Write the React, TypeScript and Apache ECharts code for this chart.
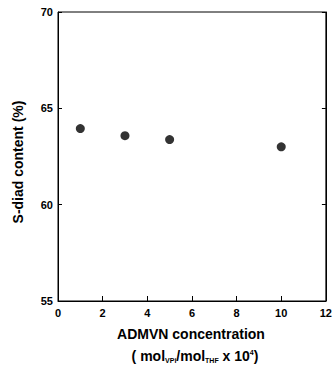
import React, { useEffect, useRef } from "react";
import * as echarts from "echarts";

const concentration = [1, 3, 5, 10];
const sDiad = [63.95, 63.58, 63.38, 63.0];
const xTicks = [0, 2, 4, 6, 8, 10, 12];
const yTicks = [55, 60, 65, 70];

export default function App() {
  const ref = useRef<HTMLDivElement>(null);
  useEffect(() => {
    if (!ref.current) return;
    const chart = echarts.init(ref.current, undefined, { renderer: "svg" });
    const font = "'Liberation Sans', Arial, sans-serif";
    chart.setOption({
      animation: false,
      backgroundColor: "#ffffff",
      grid: {
        left: 58,
        right: 9,
        top: 12,
        bottom: 74,
        show: true,
        borderColor: "#000",
        borderWidth: 1,
        backgroundColor: "transparent",
      },
      xAxis: {
        type: "value",
        min: xTicks[0],
        max: xTicks[xTicks.length - 1],
        interval: 2,
        axisLine: { show: true, lineStyle: { color: "#000", width: 1 } },
        axisTick: { show: true, inside: true, length: 5, lineStyle: { color: "#000" } },
        splitLine: { show: false },
        axisLabel: { color: "#000", fontFamily: font, fontWeight: "bold", fontSize: 11, margin: 6 },
      },
      yAxis: [
        {
          type: "value",
          min: yTicks[0],
          max: yTicks[yTicks.length - 1],
          interval: 5,
          axisLine: { show: true, lineStyle: { color: "#000", width: 1 } },
          axisTick: { show: true, inside: true, length: 4, lineStyle: { color: "#000" } },
          splitLine: { show: false },
          axisLabel: { color: "#000", fontFamily: font, fontWeight: "bold", fontSize: 11, margin: 5 },
        },
        {
          type: "value",
          position: "right",
          min: yTicks[0],
          max: yTicks[yTicks.length - 1],
          interval: 5,
          axisLine: { show: true, lineStyle: { color: "#000", width: 1 } },
          axisTick: { show: true, inside: true, length: 4, lineStyle: { color: "#000" } },
          splitLine: { show: false },
          axisLabel: { show: false },
        },
      ],
      series: [
        {
          type: "scatter",
          data: concentration.map((c, i) => [c, sDiad[i]]),
          symbol: "circle",
          symbolSize: 9,
          itemStyle: { color: "#000" },
        },
      ],
      graphic: [
        {
          type: "text",
          x: 18,
          y: 162,
          rotation: Math.PI / 2,
          style: {
            text: "S-diad content (%)",
            font: `bold 14px ${font}`,
            fill: "#000000",
            align: "center",
            verticalAlign: "middle",
          },
        },
        {
          type: "text",
          x: 191,
          y: 334,
          style: {
            text: "ADMVN concentration",
            font: `bold 14px ${font}`,
            fill: "#000000",
            align: "center",
            verticalAlign: "middle",
          },
        },
        {
          type: "text",
          x: 195,
          y: 356,
          style: {
            text: "( mol{sub|VPi}/mol{sub|THF} x 10{sup|4})",
            fontFamily: font,
            fontWeight: "bold",
            fontSize: 14,
            fill: "#000000",
            align: "center",
            verticalAlign: "middle",
            rich: {
              sub: { fontFamily: font, fontWeight: "bold", fontSize: 7, padding: [9, 0, 0, 0], fill: "#000000" },
              sup: { fontFamily: font, fontWeight: "bold", fontSize: 7, padding: [0, 0, 8, 0], fill: "#000000" },
            },
          },
        },
      ],
    });
    return () => chart.dispose();
  }, []);
  return (
    <div
      ref={ref}
      style={{ position: "fixed", left: 0, top: 0, width: 335, height: 375, background: "#fff" }}
    />
  );
}
